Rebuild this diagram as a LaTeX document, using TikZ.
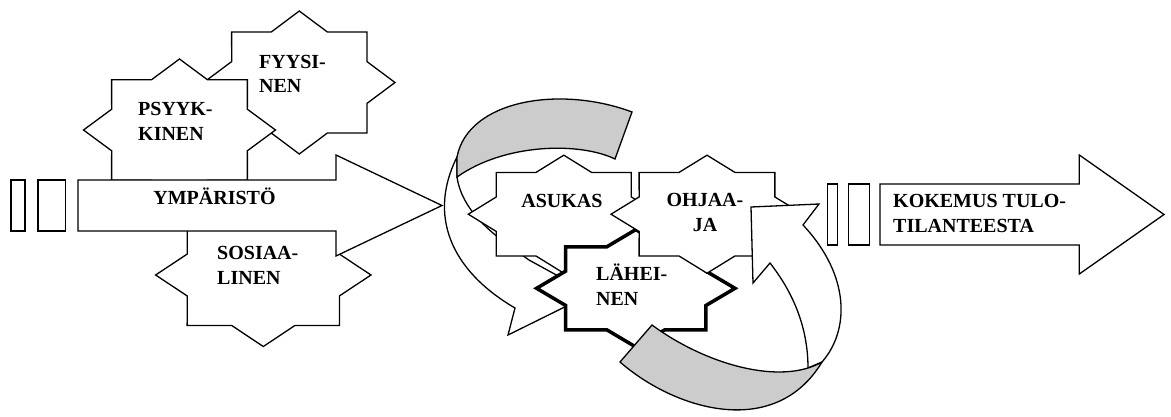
\documentclass[tikz,border=0pt]{standalone}
\usepackage{fontspec}
\setmainfont{Liberation Serif}
\definecolor{bandgray}{gray}{0.8}
% eight pointed star: style, centre, half width, half height
\newcommand\eightstar[4]{%
  \draw[#1,shift={(#2)}] (#3,0)
    \foreach \k in {0,...,7}{
      -- ({0.765*cos(\k*45+22.5)*#3},{0.765*sin(\k*45+22.5)*#4})
      -- ({cos(\k*45+45)*#3},{sin(\k*45+45)*#4})}
    -- cycle;}
\begin{document}
\begin{tikzpicture}
[x=1pt,y=-1pt,
  stardecorate/.style={draw,fill=white,line width=1.3pt,line join=miter},%
  bolddecorate/.style={draw,fill=white,line width=3.5pt,line join=miter},%
  blockdecorate/.style={draw,fill=white,line width=1.3pt},%
  banddecorate/.style={draw,fill=bandgray,line width=1.3pt},%
  textdecorate/.style={font=\bfseries\fontsize{20}{24.5}\selectfont,inner sep=0pt,align=left}]
\useasboundingbox (0,0) rectangle (1171,416);
% stars round the first arrow
\eightstar{stardecorate}{299.3,82.5}{95.7}{71.5}
\eightstar{stardecorate}{179.5,130}{96}{71}
\eightstar{stardecorate}{263.3,275}{107.7}{71.5}
% first block arrow
\draw[blockdecorate] (11,180) rectangle (25,231);
\draw[blockdecorate] (38,180) rectangle (65.7,231);
\draw[blockdecorate] (78,180) -- (336,180) -- (336,155) -- (442,205.5)
  -- (336,256) -- (336,231) -- (78,231) -- cycle;
% left curved arrow
\draw[blockdecorate] (457,157) .. controls (428,215) and (450,270) .. (515,308)
  -- (508,335) -- (591,294) -- (529,260) -- (515,250)
  .. controls (490,232) and (462,210) .. (457,177) -- cycle;
\draw[banddecorate] (457,157) .. controls (468,100) and (560,85) .. (632,112)
  -- (615,159) .. controls (580,142) and (505,143) .. (457,177) -- cycle;
% stars in the middle
\eightstar{stardecorate}{563.8,214.2}{95.5}{59}
\eightstar{bolddecorate}{635.8,288.3}{99.2}{58.7}
\eightstar{stardecorate}{707,214.2}{96}{59}
% right curved arrow
\draw[blockdecorate] (822,362) .. controls (850,330) and (850,275) .. (803,225)
  -- (819,204) -- (751,207) -- (753,283) -- (770,263)
  .. controls (795,295) and (808,330) .. (808,368) -- cycle;
\draw[banddecorate] (652,325) .. controls (705,364) and (780,386) .. (822,362)
  .. controls (775,440) and (675,410) .. (620,362) -- cycle;
% second block arrow
\draw[blockdecorate] (827.3,184) rectangle (837.3,245);
\draw[blockdecorate] (848.3,184) rectangle (869.3,245);
\draw[blockdecorate] (880,184) -- (1079.3,184) -- (1079.3,155) -- (1164,214.5)
  -- (1079.3,274) -- (1079.3,245) -- (880,245) -- cycle;
% labels (base is the last line)
\node (fyysi) at (259,92.5) [textdecorate,anchor=base west] {FYYSI-\\NEN};
\node (psyyk) at (138,140) [textdecorate,anchor=base west] {PSYYK-\\KINEN};
\node (ymparisto) at (214.5,204) [textdecorate,anchor=base] {YMPÄRISTÖ};
\node (sosiaa) at (217,284) [textdecorate,anchor=base west] {SOSIAA-\\LINEN};
\node (asukas) at (562,207) [textdecorate,anchor=base] {ASUKAS};
\node (ohjaa) at (705,231) [textdecorate,align=center,anchor=base] {OHJAA-\\JA};
\node (lahei) at (596,305) [textdecorate,anchor=base west] {LÄHEI-\\NEN};
\node (kokemus) at (893,232) [textdecorate,anchor=base west] {KOKEMUS TULO-\\TILANTEESTA};
\end{tikzpicture}
\end{document}
